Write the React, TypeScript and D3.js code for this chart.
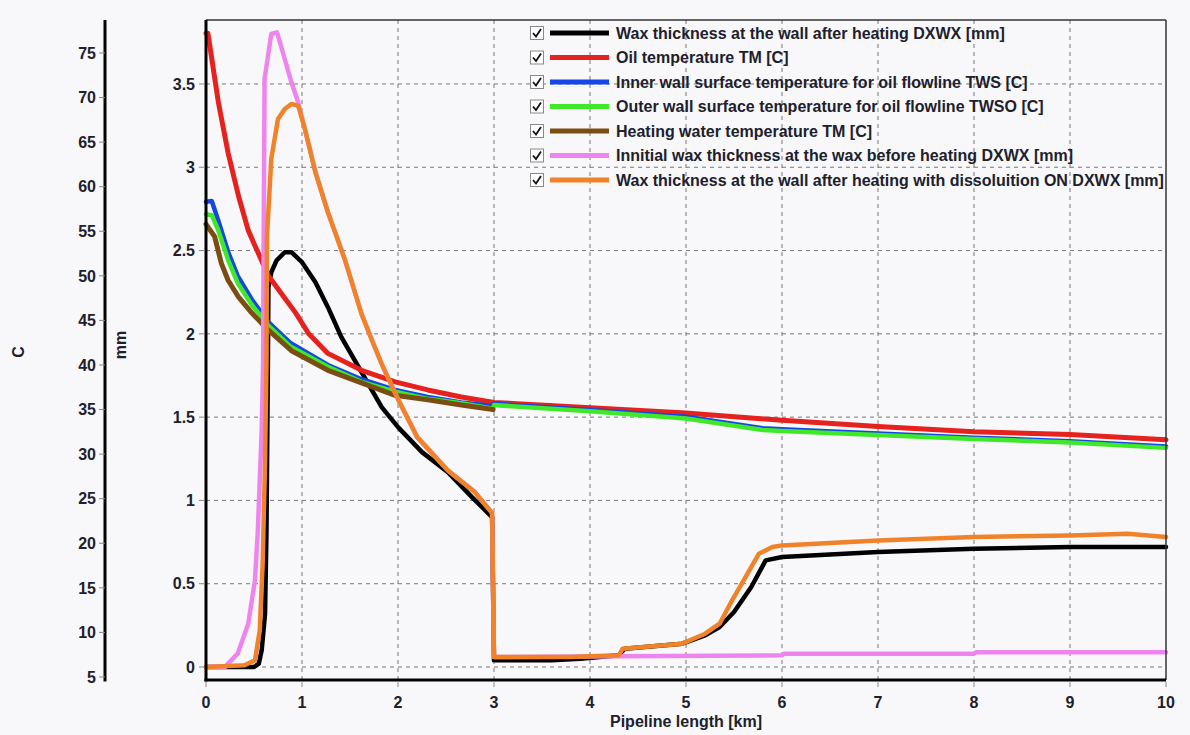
import React from "react";
import * as d3 from "d3";

// pipeline length [km] and values
const blackKm = [0, 0.5, 0.55, 0.58, 0.615, 0.63, 0.645, 0.65, 0.68, 0.735, 0.82, 0.89, 1.0, 1.14, 1.27, 1.41, 1.62, 1.83, 2.0, 2.25, 2.52, 2.77, 2.98, 3.0, 3.6, 3.9, 4.3, 4.36, 4.96, 5.2, 5.35, 5.5, 5.68, 5.83, 6, 7, 8, 9, 10];
const blackMm = [0, 0, 0.02, 0.1, 0.32, 0.82, 1.83, 2.28, 2.37, 2.44, 2.49, 2.49, 2.43, 2.31, 2.16, 1.98, 1.77, 1.56, 1.44, 1.29, 1.17, 1.02, 0.9, 0.04, 0.04, 0.05, 0.07, 0.11, 0.14, 0.19, 0.24, 0.33, 0.48, 0.64, 0.66, 0.69, 0.71, 0.72, 0.72];

const oilKm = [0, 0.02, 0.13, 0.23, 0.34, 0.44, 0.53, 0.65, 0.8, 0.93, 1.07, 1.27, 1.62, 1.97, 2.31, 2.66, 3, 4, 5, 6, 7, 8, 9, 10];
const oilC = [77.2, 77.2, 69.4, 63.8, 58.9, 55.1, 52.9, 50.0, 47.8, 45.9, 43.5, 41.3, 39.4, 38.1, 37.2, 36.4, 35.8, 35.2, 34.6, 33.8, 33.1, 32.5, 32.2, 31.6];

const wallKm = [0, 0.06, 0.125, 0.23, 0.33, 0.48, 0.65, 0.875, 1.27, 1.62, 1.97, 2.31, 2.66, 2.99, 3.0, 4, 5, 5.8, 6, 7, 8, 9, 10];
const innerC = [58.3, 58.4, 56.3, 52.7, 50.0, 47.3, 44.8, 42.5, 40.0, 38.4, 37.2, 36.4, 35.8, 35.4, 35.65, 34.95, 34.2, 32.9, 32.8, 32.3, 31.85, 31.45, 30.85];
const outerC = [56.9, 56.8, 55.2, 51.8, 49.2, 46.7, 44.4, 42.1, 39.8, 38.1, 37.0, 36.2, 35.7, 35.1, 35.5, 34.8, 34.0, 32.7, 32.6, 32.15, 31.7, 31.3, 30.7];

const waterKm = [0, 0.09, 0.16, 0.23, 0.34, 0.48, 0.65, 0.89, 1.27, 1.62, 1.97, 2.31, 2.66, 2.99];
const waterC = [55.8, 54.4, 51.4, 49.5, 47.6, 45.8, 43.9, 41.6, 39.4, 38.0, 36.6, 36.1, 35.5, 35.0];

const initKm = [0, 0.2, 0.23, 0.33, 0.44, 0.51, 0.54, 0.58, 0.595, 0.6, 0.61, 0.68, 0.74, 0.82, 0.89, 0.96, 1.03, 1.14, 1.27, 1.45, 1.62, 1.73, 1.83, 1.99, 2.2, 2.52, 2.8, 2.98, 3.0, 4.3, 6, 6.02, 8, 8.02, 10];
const initMm = [0, 0, 0.02, 0.08, 0.26, 0.52, 0.82, 1.42, 1.83, 2.5, 3.53, 3.8, 3.81, 3.65, 3.51, 3.39, 3.23, 2.97, 2.73, 2.44, 2.12, 1.96, 1.82, 1.62, 1.38, 1.18, 1.05, 0.925, 0.06, 0.065, 0.07, 0.08, 0.08, 0.088, 0.088];

const dissKm = [0, 0.4, 0.51, 0.56, 0.59, 0.615, 0.63, 0.635, 0.68, 0.75, 0.82, 0.89, 0.96, 1.03, 1.14, 1.27, 1.45, 1.62, 1.73, 1.83, 1.99, 2.2, 2.52, 2.8, 2.98, 3.0, 3.8, 4.3, 4.34, 4.96, 5.2, 5.35, 5.48, 5.62, 5.76, 5.9, 6, 7, 8, 9, 9.6, 10];
const dissMm = [0, 0.01, 0.04, 0.22, 0.62, 1.23, 1.83, 2.58, 3.05, 3.29, 3.35, 3.38, 3.37, 3.23, 2.97, 2.73, 2.44, 2.12, 1.96, 1.82, 1.62, 1.38, 1.18, 1.05, 0.925, 0.06, 0.06, 0.07, 0.11, 0.14, 0.2, 0.26, 0.4, 0.54, 0.68, 0.72, 0.73, 0.76, 0.78, 0.79, 0.8, 0.78];

const xTicks = [0, 1, 2, 3, 4, 5, 6, 7, 8, 9, 10];
const mmTicks = [0, 0.5, 1, 1.5, 2, 2.5, 3, 3.5];
const cTicks = [5, 10, 15, 20, 25, 30, 35, 40, 45, 50, 55, 60, 65, 70, 75];

const legendLabels = [
  "Wax thickness at the wall after heating DXWX [mm]",
  "Oil temperature TM [C]",
  "Inner wall surface temperature for oil flowline TWS [C]",
  "Outer wall surface temperature for oil flowline TWSO [C]",
  "Heating water temperature TM [C]",
  "Innitial wax thickness at the wax before heating DXWX [mm]",
  "Wax thickness at the wall after heating with dissoluition ON DXWX [mm]",
];
const legendColors = ["#000000", "#e5221e", "#1347e8", "#3fe829", "#7a4d12", "#ee85ee", "#f0832a"];

const FONT = "'Liberation Sans', Arial, sans-serif";

export default function App() {
  const width = 1190;
  const height = 735;
  const margin = { top: 20, right: 24, bottom: 55, left: 206 };
  const cAxisX = 105;

  const x = d3.scaleLinear().domain([0, 10]).range([margin.left, width - margin.right]);
  const yMm = d3.scaleLinear().domain([-0.078, 3.884]).range([height - margin.bottom, margin.top]);
  const yC = d3.scaleLinear().domain([4.66, 78.7]).range([height - margin.bottom, margin.top]);

  const mmLine = (xs: number[], ys: number[]) =>
    d3.line<number>().x((_, i) => x(xs[i])).y((d) => yMm(d))(ys) || "";
  const cLine = (xs: number[], ys: number[]) =>
    d3.line<number>().x((_, i) => x(xs[i])).y((d) => yC(d))(ys) || "";

  const series = [
    { d: mmLine(blackKm, blackMm), color: legendColors[0], w: 4.5 },
    { d: cLine(oilKm, oilC), color: legendColors[1], w: 5 },
    { d: cLine(wallKm, innerC), color: legendColors[2], w: 4.5 },
    { d: cLine(wallKm, outerC), color: legendColors[3], w: 4.5 },
    { d: cLine(waterKm, waterC), color: legendColors[4], w: 5 },
    { d: mmLine(initKm, initMm), color: legendColors[5], w: 4.5 },
    { d: mmLine(dissKm, dissMm), color: legendColors[6], w: 4.5 },
  ];

  const left = margin.left;
  const right = width - margin.right;
  const top = margin.top;
  const bottom = height - margin.bottom;
  const textColor = "#20202c";

  return (
    <div style={{ position: "absolute", left: 0, top: 0 }}>
      <svg width={width} height={height} style={{ display: "block", background: "#f8f8fa" }} fontFamily={FONT}>
        {/* grid */}
        {xTicks.slice(1, -1).map((t) => (
          <line key={"gx" + t} x1={x(t)} x2={x(t)} y1={top} y2={bottom} stroke="#777" strokeDasharray="4,4" />
        ))}
        {mmTicks.map((t) => (
          <line key={"gy" + t} x1={left} x2={right} y1={yMm(t)} y2={yMm(t)} stroke="#777" strokeDasharray="4,4" />
        ))}

        {/* data lines */}
        <g fill="none" strokeLinejoin="round" strokeLinecap="round">
          {series.map((s, i) => (
            <path key={i} d={s.d} stroke={s.color} strokeWidth={s.w} />
          ))}
        </g>

        {/* frame */}
        <line x1={left} x2={right} y1={top} y2={top} stroke="#333" strokeWidth={1.5} />
        <line x1={right} x2={right} y1={top} y2={bottom} stroke="#333" strokeWidth={1.5} />
        <line x1={left} x2={left} y1={top} y2={bottom + 1.5} stroke="#000" strokeWidth={3} />
        <line x1={left - 1.5} x2={right} y1={bottom} y2={bottom} stroke="#000" strokeWidth={3} />

        {/* x axis */}
        {xTicks.map((t) => (
          <g key={"xt" + t}>
            <line x1={x(t)} x2={x(t)} y1={bottom + 1.5} y2={bottom + 7} stroke="#888" />
            <text x={x(t)} y={708} textAnchor="middle" fontSize={16} fontWeight="bold" fill={textColor}>{t}</text>
          </g>
        ))}
        <text x={(left + right) / 2} y={727} textAnchor="middle" fontSize={16} fontWeight="bold" fill={textColor}>
          Pipeline length [km]
        </text>

        {/* mm axis */}
        {mmTicks.map((t) => (
          <g key={"mt" + t}>
            <line x1={left - 7} x2={left - 1.5} y1={yMm(t)} y2={yMm(t)} stroke="#888" />
            <text x={195} y={yMm(t)} dy="0.36em" textAnchor="end" fontSize={16} fontWeight="bold" fill={textColor}>{t}</text>
          </g>
        ))}
        <text transform={`translate(126,${(top + bottom) / 2 - 5}) rotate(-90)`} textAnchor="middle" fontSize={16} fontWeight="bold" fill={textColor}>mm</text>

        {/* C axis */}
        <line x1={cAxisX} x2={cAxisX} y1={top} y2={bottom + 1.5} stroke="#000" strokeWidth={3} />
        {cTicks.map((t) => (
          <g key={"ct" + t}>
            <line x1={cAxisX - 6} x2={cAxisX} y1={yC(t)} y2={yC(t)} stroke="#888" />
            <text x={96} y={yC(t)} dy="0.36em" textAnchor="end" fontSize={16} fontWeight="bold" fill={textColor}>{t}</text>
          </g>
        ))}
        <text transform={`translate(24,${(top + bottom) / 2 + 2}) rotate(-90)`} textAnchor="middle" fontSize={16} fontWeight="bold" fill={textColor}>C</text>

        {/* legend */}
        {legendLabels.map((label, i) => {
          const cy = 33 + i * 24.5;
          return (
            <g key={"lg" + i}>
              <rect x={530.5} y={cy - 6.5} width={13} height={13} fill="#fff" stroke="#8a8a8a" />
              <path d={`M${533},${cy} L${536},${cy + 3.5} L${541},${cy - 4}`} fill="none" stroke="#111" strokeWidth={1.8} />
              <line x1={550} x2={609} y1={cy} y2={cy} stroke={legendColors[i]} strokeWidth={5} />
              <text x={616} y={cy} dy="0.36em" fontSize={16} fontWeight="bold" fill={textColor}>{label}</text>
            </g>
          );
        })}
      </svg>
    </div>
  );
}
